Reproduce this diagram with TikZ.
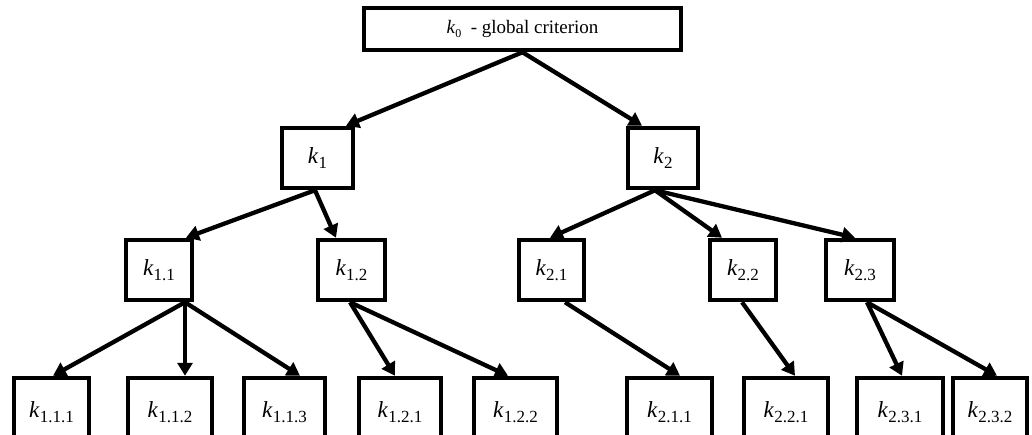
\documentclass[tikz,border=0pt]{standalone}
\usepackage{fontspec}
\setmainfont{Liberation Serif}
\usetikzlibrary{arrows.meta}
\newcommand{\kcrit}[1]{\textit{k}\raisebox{-5pt}{\fontsize{17}{17}\selectfont #1}}
\tikzset{
  crit/.style={draw, line width=4.5pt, fill=white, inner sep=0pt, font=\fontsize{23}{26}\selectfont},
  level1/.style={crit, minimum height=60pt},
  level2/.style={crit, minimum height=60pt},
  level3/.style={crit, minimum height=68pt},
  link/.style={-{Triangle[length=13pt,width=15pt]}, line width=4.3pt},
}
\begin{document}
\begin{tikzpicture}[x=1pt,y=1pt]
  \useasboundingbox (0,-435) rectangle (1032,0);
  \clip (0,-435) rectangle (1032,0);

  % Global criterion
  \node[crit, minimum width=317pt, minimum height=42pt, font=\fontsize{19}{21}\selectfont] (root) at (522.5,-29)
    {\textit{k}\raisebox{-4pt}{\fontsize{12}{12}\selectfont 0}~ - global criterion};

  % First level
  \node[level1, minimum width=71pt] (k1) at (317.5,-158) {\kcrit{1}};
  \node[level1, minimum width=70pt] (k2) at (663,-158)   {\kcrit{2}};

  % Second level
  \node[level2, minimum width=66pt] (k11) at (159,-270)   {\kcrit{1.1}};
  \node[level2, minimum width=67pt] (k12) at (351.5,-270) {\kcrit{1.2}};
  \node[level2, minimum width=65pt] (k21) at (551.5,-270) {\kcrit{2.1}};
  \node[level2, minimum width=66pt] (k22) at (743,-270)   {\kcrit{2.2}};
  \node[level2, minimum width=68pt] (k23) at (860,-270)   {\kcrit{2.3}};

  % Third level (cut by the lower edge)
  \node[level3, minimum width=75pt] (k111) at (51.5,-412)  {\kcrit{1.1.1}};
  \node[level3, minimum width=84pt] (k112) at (170,-412)   {\kcrit{1.1.2}};
  \node[level3, minimum width=81pt] (k113) at (284.5,-412) {\kcrit{1.1.3}};
  \node[level3, minimum width=82pt] (k121) at (400,-412)   {\kcrit{1.2.1}};
  \node[level3, minimum width=83pt] (k122) at (515.5,-412) {\kcrit{1.2.2}};
  \node[level3, minimum width=85pt] (k211) at (669.5,-412) {\kcrit{2.1.1}};
  \node[level3, minimum width=84pt] (k221) at (786,-412)   {\kcrit{2.2.1}};
  \node[level3, minimum width=86pt] (k231) at (900,-412)   {\kcrit{2.3.1}};
  \node[level3, minimum width=74pt] (k232) at (990,-412)   {\kcrit{2.3.2}};

  % Links
  \draw[link] (root.south) -- ([xshift=28.5pt]k1.north);
  \draw[link] (root.south) -- ([xshift=-21pt]k2.north);

  \draw[link] ([xshift=-2.5pt]k1.south) -- ([xshift=27pt]k11.north);
  \draw[link] ([xshift=-2.5pt]k1.south) -- ([xshift=-15.5pt]k12.north);
  \draw[link] ([xshift=-8pt]k2.south) -- ([xshift=-1.5pt]k21.north);
  \draw[link] ([xshift=-8pt]k2.south) -- ([xshift=-21pt]k22.north);
  \draw[link] ([xshift=-8pt]k2.south) -- ([xshift=-5pt]k23.north);

  \draw[link] ([xshift=26pt]k11.south) -- ([xshift=1.5pt]k111.north);
  \draw[link] ([xshift=26pt]k11.south) -- ([xshift=15pt]k112.north);
  \draw[link] ([xshift=26pt]k11.south) -- ([xshift=15.5pt]k113.north);
  \draw[link] ([xshift=-1.5pt]k12.south) -- ([xshift=-5pt]k121.north);
  \draw[link] ([xshift=-1.5pt]k12.south) -- ([xshift=-7.5pt]k122.north);
  \draw[link] ([xshift=13.5pt]k21.south) -- ([xshift=10.5pt]k211.north);
  \draw[link] ([xshift=-1pt]k22.south) -- ([xshift=9pt]k221.north);
  \draw[link] ([xshift=7pt]k23.south) -- ([xshift=2pt]k231.north);
  \draw[link] ([xshift=7pt]k23.south) -- ([xshift=7pt]k232.north);
\end{tikzpicture}
\end{document}
